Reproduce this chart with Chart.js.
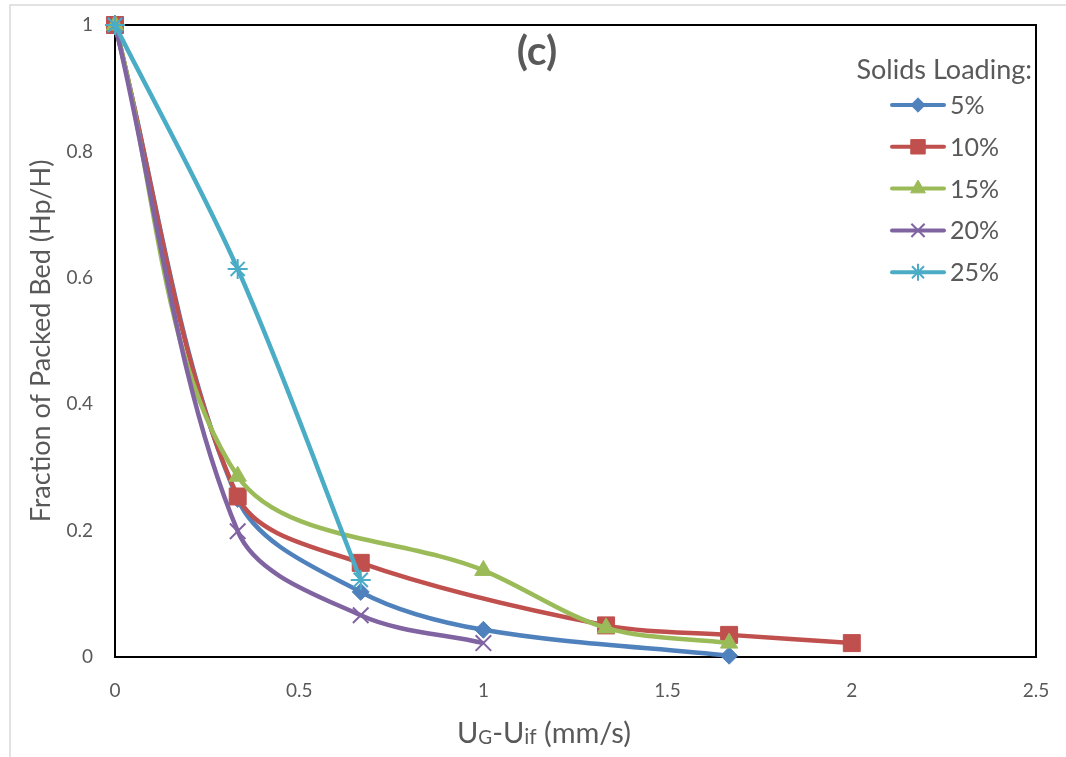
<!DOCTYPE html>
<html>
<head>
<meta charset="utf-8">
<script src="https://cdn.jsdelivr.net/npm/chart.js@4.4.1/dist/chart.umd.min.js"></script>
<style>
  body { margin: 0; background: #fff; }
</style>
</head>
<body>
<canvas id="chart" width="1066" height="757"></canvas>
<script>
// x positions shared by all series (UG-Uif, mm/s)
const xValues = [0, 0.333, 0.667, 1, 1.333, 1.667, 2];

// fraction of packed bed, null = no measurement
const load5 = [1, 0.25, 0.103, 0.043, null, 0.002, null];
const load10 = [1, 0.254, 0.149, null, 0.050, 0.035, 0.022];
const load15 = [1, 0.286, null, 0.137, 0.046, 0.022, null];
const load20 = [1, 0.199, 0.066, 0.022, null, null, null];
const load25 = [1, 0.614, 0.122, null, null, null, null];

const seriesNames = ['5%', '10%', '15%', '20%', '25%'];
const xTicks = [0, 0.5, 1, 1.5, 2, 2.5];
const yTicks = [0, 0.2, 0.4, 0.6, 0.8, 1];

const colors = ['#4F81BD', '#C0504D', '#9BBB59', '#8064A2', '#4BACC6'];
const markers = [
  { style: 'rectRot', r: 8.5, bw: 1 },
  { style: 'rect', r: 12, bw: 1 },
  { style: 'triangle', r: 10, bw: 1 },
  { style: 'crossRot', r: 11, bw: 2 },
  { style: 'star', r: 10, bw: 2 }
];

const allSeries = [load5, load10, load15, load20, load25];

function toPoints(values) {
  let pts = [];
  values.forEach((v, i) => {
    if (v !== null) pts.push({ x: xValues[i], y: v });
  });
  return pts;
}

const FONT = 'Lato, "Liberation Sans", sans-serif';
const GREY = '#595959';

// box around the plot area, drawn under the lines
const frame = {
  id: 'frame',
  beforeDraw(chart) {
    const c = chart.ctx;
    c.save();
    c.strokeStyle = '#d9d9d9';
    c.lineWidth = 1.5;
    c.strokeRect(10, 5, 1100, 800);
    c.restore();
  },
  beforeDatasetsDraw(chart) {
    const a = chart.chartArea;
    const c = chart.ctx;
    c.save();
    c.strokeStyle = '#000';
    c.lineWidth = 2;
    c.strokeRect(a.left, a.top, a.right - a.left, a.bottom - a.top);
    c.restore();
  }
};

// panel label, x title with subscripts, in-plot legend like the excel one
const extras = {
  id: 'extras',
  afterDraw(chart) {
    const c = chart.ctx;
    c.save();
    c.fillStyle = GREY;
    c.font = 'bold 41px ' + FONT;
    c.textAlign = 'center';
    c.textBaseline = 'middle';
    c.fillText('(c)', 537, 52);

    // x axis title: U_G - U_if (mm/s)
    const parts = [['U', 29, 0], ['G', 19, 1], ['-U', 29, 0], ['if', 21, 1], [' (mm/s)', 29, 0]];
    c.textBaseline = 'alphabetic';
    c.textAlign = 'left';
    let total = 0;
    parts.forEach(p => { c.font = p[1] + 'px ' + FONT; total += c.measureText(p[0]).width; });
    let x = 544 - total / 2;
    parts.forEach(p => {
      c.font = p[1] + 'px ' + FONT;
      c.fillText(p[0], x, 743 + p[2]);
      x += c.measureText(p[0]).width;
    });

    c.textBaseline = 'middle';
    c.font = '27px ' + FONT;
    c.textAlign = 'right';
    c.fillText('Solids Loading:', 1032, 70);

    c.textAlign = 'left';
    c.font = '25px ' + FONT;
    seriesNames.forEach((name, i) => {
      const y = 105 + i * 41.8;
      c.strokeStyle = colors[i];
      c.fillStyle = colors[i];
      c.lineWidth = 4;
      c.lineCap = 'round';
      c.beginPath();
      c.moveTo(892, y);
      c.lineTo(944, y);
      c.stroke();
      c.lineCap = 'butt';
      c.lineWidth = markers[i].bw;
      Chart.helpers.drawPoint(c, {
        pointStyle: markers[i].style,
        radius: markers[i].r * 0.85,
        borderWidth: markers[i].bw,
        rotation: 0
      }, 918, y);
      c.fillStyle = GREY;
      c.fillText(name, 950, y + 1);
    });
    c.restore();
  }
};

new Chart(document.getElementById('chart'), {
  type: 'line',
  data: {
    datasets: allSeries.map((vals, i) => ({
      label: seriesNames[i],
      data: toPoints(vals),
      order: allSeries.length - 1 - i,
      borderColor: colors[i],
      backgroundColor: colors[i],
      borderWidth: 4.5,
      tension: 0.33,
      pointStyle: markers[i].style,
      pointRadius: markers[i].r,
      pointBorderWidth: markers[i].bw,
      pointBackgroundColor: colors[i],
      pointBorderColor: colors[i],
      clip: false
    }))
  },
  options: {
    responsive: false,
    animation: false,
    layout: { autoPadding: false, padding: { left: 0, top: 25, right: 30, bottom: 0 } },
    plugins: {
      legend: { display: false },
      tooltip: { enabled: false }
    },
    scales: {
      x: {
        type: 'linear',
        min: 0,
        max: 2.5,
        afterBuildTicks: (s) => { s.ticks = xTicks.map(v => ({ value: v })); },
        afterFit: (s) => { s.height = 100; },
        grid: { display: false, drawTicks: true, tickLength: 20 },
        border: { display: false },
        ticks: {
          color: GREY, padding: 2, font: { family: FONT, size: 19 },
          callback: (v) => String(+v.toFixed(1))
        }
      },
      y: {
        min: 0,
        max: 1,
        afterBuildTicks: (s) => { s.ticks = yTicks.map(v => ({ value: v })); },
        afterFit: (s) => { s.width = 115; },
        grid: { display: false, drawTicks: true, tickLength: 20 },
        border: { display: false },
        ticks: {
          color: GREY, padding: 2, font: { family: FONT, size: 19 },
          callback: (v) => String(+v.toFixed(1))
        },
        title: {
          display: true,
          text: 'Fraction of Packed Bed (Hp/H)',
          color: GREY,
          padding: { top: 25, bottom: 0 },
          font: { family: FONT, size: 27 }
        }
      }
    }
  },
  plugins: [frame, extras]
});
</script>
</body>
</html>
